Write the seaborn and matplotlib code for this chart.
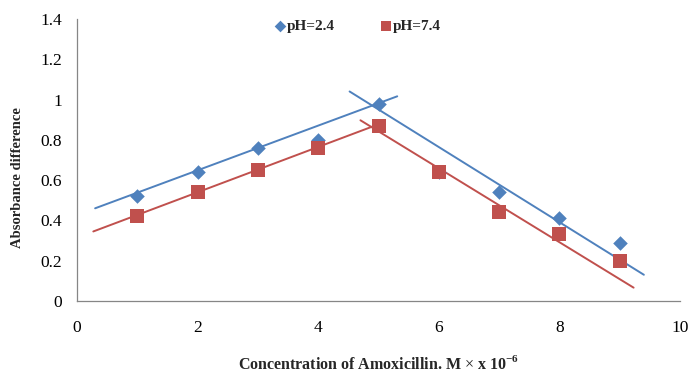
import numpy as np
import pandas as pd
import seaborn as sns
import matplotlib.pyplot as plt

# Data
conc = [1, 2, 3, 4, 5, 6, 7, 8, 9]
ph24 = [0.52, 0.64, 0.76, 0.80, 0.98, 0.64, 0.54, 0.41, 0.29]
ph74 = [0.42, 0.54, 0.65, 0.76, 0.87, 0.64, 0.44, 0.33, 0.20]

# Trend line end points (rising and falling branches)
blue_up_x = [0.3, 5.31]
blue_up_y = [0.46, 1.016]
blue_down_x = [4.52, 9.4]
blue_down_y = [1.04, 0.13]
red_up_x = [0.27, 4.98]
red_up_y = [0.345, 0.875]
red_down_x = [4.70, 9.23]
red_down_y = [0.897, 0.066]

BLUE = "#4F81BD"
RED = "#C0504D"
GREY = "#868686"

sns.set_theme(style="white")
plt.rcParams['font.family'] = ['Liberation Serif', 'DejaVu Serif']
plt.rcParams['mathtext.fontset'] = 'custom'
plt.rcParams['mathtext.rm'] = 'Liberation Serif'
plt.rcParams['mathtext.bf'] = 'Liberation Serif:bold'

fig = plt.figure(figsize=(6.89, 3.72), dpi=100)
ax = fig.add_axes([0.1118, 0.191, 0.8752, 0.758])

# Trend lines
for xs, ys, col in [(blue_up_x, blue_up_y, BLUE), (blue_down_x, blue_down_y, BLUE),
                    (red_up_x, red_up_y, RED), (red_down_x, red_down_y, RED)]:
    sns.lineplot(x=xs, y=ys, color=col, linewidth=1.4, ax=ax, legend=False)

df = pd.DataFrame({"conc": conc, "pH=2.4": ph24, "pH=7.4": ph74})
sns.scatterplot(data=df, x="conc", y="pH=2.4", marker="D", s=55, color=BLUE,
                edgecolor=BLUE, linewidth=0, ax=ax, label="pH=2.4", zorder=3)
sns.scatterplot(data=df, x="conc", y="pH=7.4", marker="s", s=92, color=RED,
                edgecolor=RED, linewidth=0, ax=ax, label="pH=7.4", zorder=4)

ax.set_xlim(0, 10)
ax.set_ylim(0, 1.4)
ax.set_xticks(np.arange(0, 11, 2))
ax.set_yticks(np.arange(0, 1.41, 0.2))
ax.set_xticklabels([str(v) for v in range(0, 11, 2)])
ax.set_yticklabels(["0", "0.2", "0.4", "0.6", "0.8", "1", "1.2", "1.4"])

for side in ["top", "right"]:
    ax.spines[side].set_visible(False)
for side in ["left", "bottom"]:
    ax.spines[side].set_color(GREY)
    ax.spines[side].set_linewidth(0.9)
ax.tick_params(axis="both", which="both", direction="out", length=4, width=0.9,
               color=GREY, labelsize=12.5, labelcolor="black")
ax.tick_params(axis="y", pad=7)
ax.tick_params(axis="x", pad=10)

ax.set_xlabel(r"Concentration of Amoxicillin. M $\times$ x 10$^{\mathbf{-6}}$",
              fontsize=11.5, fontweight="bold")
ax.xaxis.set_label_coords(0.5, -0.192)
ax.set_ylabel("Absorbance difference", fontsize=10.5, fontweight="bold")
ax.yaxis.set_label_coords(-0.088, 0.436)

ax.legend(loc="center", bbox_to_anchor=(0.465, 0.975), ncol=2, frameon=False,
          handlelength=0.7, handletextpad=0.1, columnspacing=3.0,
          prop={"weight": "bold", "size": 11}, markerscale=0.8)

fig.savefig("out.png", dpi=100)
